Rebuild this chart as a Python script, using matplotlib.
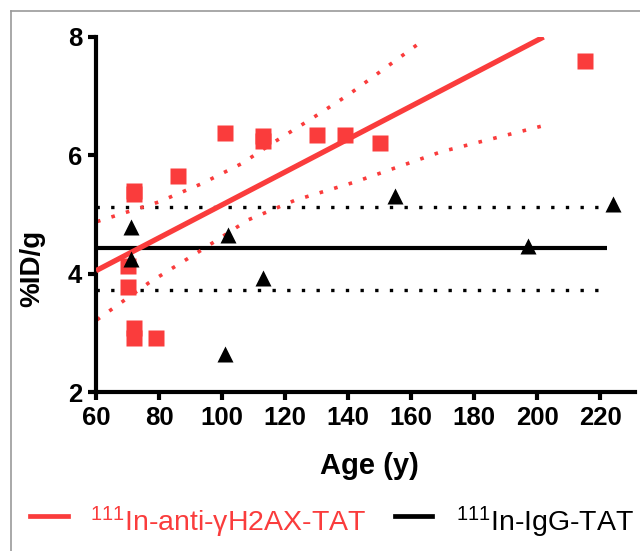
import matplotlib
matplotlib.use("Agg")
import matplotlib.pyplot as plt
from matplotlib.lines import Line2D

plt.rcParams['font.family'] = ['Liberation Sans', 'DejaVu Sans']
plt.rcParams['mathtext.fontset'] = 'custom'
plt.rcParams['mathtext.rm'] = 'Liberation Sans'
plt.rcParams['mathtext.it'] = 'Liberation Sans:italic'
plt.rcParams['mathtext.bf'] = 'Liberation Sans:bold'

# ---- data ----
red_age = [70, 70, 72, 72, 72, 72, 79, 86, 101, 113, 113, 130, 139, 150, 215]
red_val = [4.13, 3.77, 5.40, 5.34, 3.09, 2.91, 2.92, 5.65, 6.37, 6.33, 6.25, 6.34, 6.35, 6.21, 7.60]

black_age = [71, 71, 101, 102, 113, 155, 197, 224]
black_val = [4.79, 4.25, 2.64, 4.66, 3.93, 5.32, 4.46, 5.18]

fit_x = [60, 202]
fit_y = [4.05, 8.0]

upper_x = [60.3, 79.8, 93.5, 106.2, 116.7, 128.4, 140.0, 163.2]
upper_y = [4.88, 5.21, 5.52, 5.86, 6.23, 6.62, 7.02, 7.92]
lower_x = [60.3, 76.6, 93.5, 108.3, 123.1, 142.2, 169.5, 201.1]
lower_y = [3.22, 3.84, 4.40, 4.91, 5.24, 5.55, 6.06, 6.49]

ctrl_x = [60, 222]
ctrl_mean = 4.43
ctrl_upper = 5.13
ctrl_lower = 3.72

xticks = [60, 80, 100, 120, 140, 160, 180, 200, 220]
yticks = [2, 4, 6, 8]
labels = [r'$^{111}$In-anti-γH2AX-TAT', r'$^{111}$In-IgG-TAT']

RED = '#fa3c3c'
W, H = 640, 551

fig = plt.figure(figsize=(W / 100, H / 100), dpi=100)
ax = fig.add_axes([96 / W, 1 - 392 / H, (635 - 96) / W, (392 - 37) / H])

# control group lines
ax.plot(ctrl_x, [ctrl_mean] * 2, color='black', lw=3.0, zorder=2, solid_capstyle='butt')
ax.plot(ctrl_x, [ctrl_upper] * 2, color='black', lw=2.4, ls=(0, (1, 3.4)), zorder=2)
ax.plot(ctrl_x, [ctrl_lower] * 2, color='black', lw=2.4, ls=(0, (1, 3.4)), zorder=2)

# regression and confidence bands
ax.plot(upper_x, upper_y, color=RED, lw=2.6, ls=(0, (1, 3.2)), zorder=2)
ax.plot(lower_x, lower_y, color=RED, lw=2.6, ls=(0, (1, 3.2)), zorder=2)
ax.plot(fit_x, fit_y, color=RED, lw=3.8, zorder=3, solid_capstyle='butt')

# points
ax.plot(red_age, red_val, ls='none', marker='s', ms=11, color=RED, mec='none', zorder=4)
ax.plot(black_age, black_val, ls='none', marker='^', ms=11, color='black', mec='none', zorder=5)

ax.set_xlim(60, 231)
ax.set_ylim(2, 8)
ax.set_xticks(xticks)
ax.set_yticks(yticks)
for s in ['top', 'right']:
    ax.spines[s].set_visible(False)
for s in ['left', 'bottom']:
    ax.spines[s].set_linewidth(3.0)
    ax.spines[s].set_capstyle('projecting')
ax.tick_params(axis='both', length=6, width=3.0, labelsize=18.5, pad=4)
for lab in ax.get_xticklabels() + ax.get_yticklabels():
    lab.set_fontweight('bold')

fig.text(369 / W, 1 - 466 / H, 'Age (y)', ha='center', va='center',
         fontsize=21, fontweight='bold')
fig.text(32 / W, 1 - 268 / H, '%ID/g', ha='center', va='center', rotation=90,
         fontsize=20, fontweight='bold')

# legend (manual)
fig.add_artist(Line2D([30 / W, 68 / W], [1 - 516 / H] * 2, color=RED, lw=3.4,
                      transform=fig.transFigure))
fig.text(90 / W, 1 - 531 / H, labels[0], color=RED, fontsize=20.5, va='baseline', ha='left')
fig.add_artist(Line2D([395 / W, 432 / W], [1 - 516 / H] * 2, color='black', lw=3.4,
                      transform=fig.transFigure))
fig.text(456 / W, 1 - 531 / H, labels[1], color='black', fontsize=20.5, va='baseline', ha='left')

# thin grey frame (left and top)
fig.add_artist(Line2D([10.5 / W, 10.5 / W], [0, 1 - 11 / H], color='#9a9a9a', lw=1.2,
                      transform=fig.transFigure))
fig.add_artist(Line2D([10.5 / W, 1], [1 - 11 / H] * 2, color='#9a9a9a', lw=1.2,
                      transform=fig.transFigure))

fig.savefig('out.png', dpi=100)
